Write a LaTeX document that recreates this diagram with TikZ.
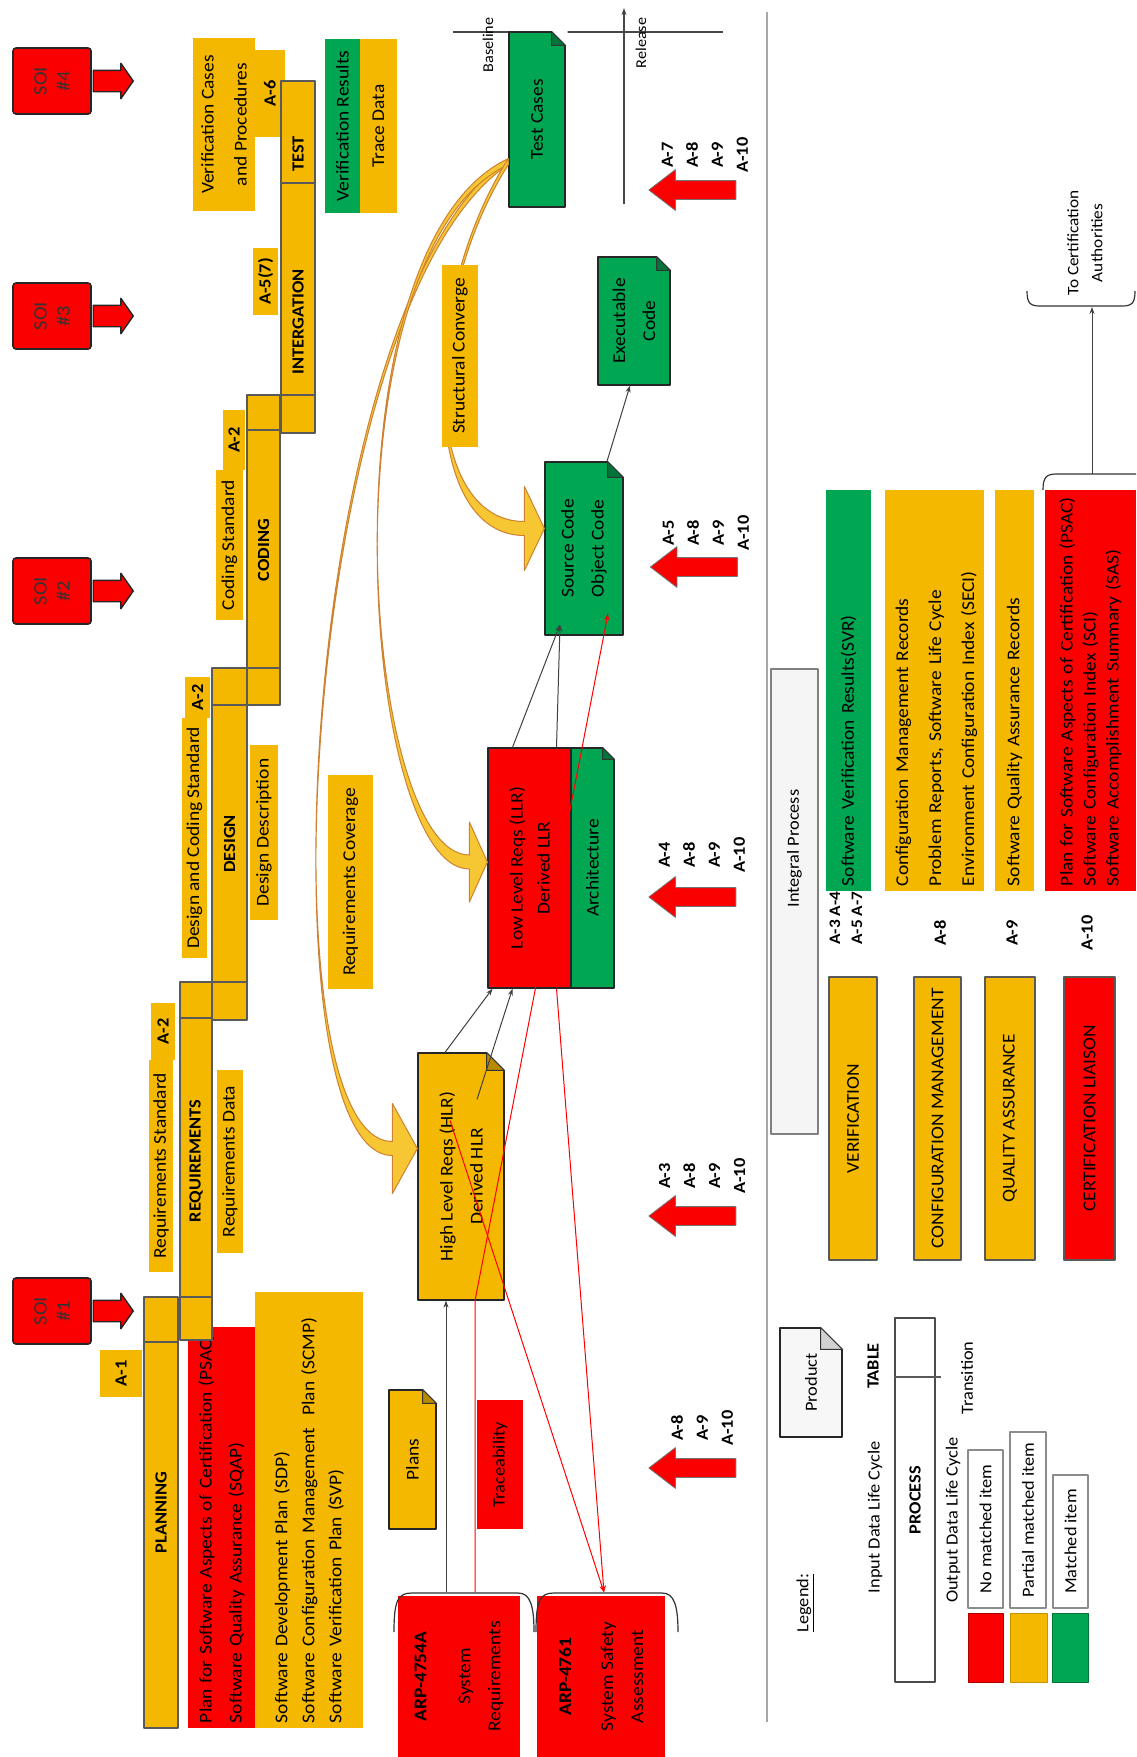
\documentclass[tikz,border=0pt]{standalone}
\usepackage{fontspec}
\setmainfont{Carlito}[FakeStretch=1.08]
\usetikzlibrary{shapes.arrows,arrows.meta,calc}

\definecolor{phasegold}{RGB}{245,184,0}
\definecolor{itemred}{RGB}{250,0,0}
\definecolor{itemgreen}{RGB}{0,166,81}
\definecolor{edgegray}{RGB}{64,64,64}
\definecolor{flowedge}{RGB}{205,130,50}

% folded corner of a document node (node, fold colour, size)
\newcommand\docfold[3]{%
  \fill[white] ($(#1.south east)+(-#3-2,-2)$) -- ($(#1.south east)+(2,-2)$) -- ($(#1.south east)+(2,#3+2)$) -- cycle;
  \filldraw[fill=#2, draw=black!80, line width=1pt]
    ($(#1.south east)+(-#3,0)$) -- ($(#1.south east)+(0,#3)$) -- ($(#1.south east)+(-#3,#3)$) -- cycle;
}

\tikzset{
  rot/.style={rotate=90, inner sep=2pt, align=center},
  plain/.style={rot, font=\fontsize{17}{20}\selectfont},
  phase/.style={rot, draw=black!65, line width=1.2pt, fill=phasegold, font=\fontsize{17}{20}\selectfont\bfseries},
  cellline/.style={draw=black!65, line width=1.2pt},
  tagbox/.style={rot, fill=phasegold, font=\fontsize{18}{22}\selectfont},
  atag/.style={rot, fill=phasegold, font=\fontsize{17}{20}\selectfont\bfseries},
  item/.style={rot, draw=black!85, line width=1.2pt, font=\fontsize{18}{30}\selectfont},
  soibox/.style={rot, draw=black!85, line width=1.6pt, fill=itemred, rounded corners=3pt,
    minimum width=66pt, minimum height=78pt, font=\fontsize{19}{23}\selectfont, text=black!80},
  soiarrow/.style={single arrow, draw=black!85, line width=1.4pt, fill=itemred, inner sep=0pt,
    minimum height=40pt, single arrow head extend=7pt, single arrow tip angle=110},
  aarrow/.style={single arrow, shape border rotate=180, draw=black!55, line width=0.8pt, fill=itemred,
    inner sep=0pt, minimum height=87pt, single arrow head extend=11pt, single arrow tip angle=75},
  alabel/.style={rot, font=\fontsize{17}{25}\selectfont\bfseries},
  conn/.style={draw=edgegray, line width=1pt, -{Stealth[length=7pt,width=5pt]}},
  trace/.style={draw=red, line width=1pt, -{Stealth[length=7pt,width=5pt]}},
  flow/.style={fill=phasegold!80!white, draw=flowedge, line width=1pt},
  milestone/.style={draw=gray!55!black, line width=1.2pt},
  bracket/.style={draw=black!80, line width=1.2pt},
  outbox/.style={rot, inner sep=4pt, align=left, minimum width=401pt, text width=391pt,
    font=\fontsize{18}{22}\selectfont},
  integ/.style={rot, draw=black!65, line width=1.6pt, fill=phasegold, minimum width=283pt,
    font=\fontsize{18}{22}\selectfont},
  legendbox/.style={rot, draw=black!45, line width=1.5pt, fill=white, font=\fontsize{17}{20}\selectfont},
}

\begin{document}
\begin{tikzpicture}[x=1pt, y=-1pt, line join=round]
  \useasboundingbox[fill=white] (0,0) rectangle (1136,1757);

  % separator, baseline and release
  \draw[gray!70, line width=2pt] (767,12) -- (767,1722);
  \coordinate (baseL) at (453,32);
  \coordinate (baseR) at (723,32);
  \draw[milestone] (baseL) -- (baseR);
  \coordinate (relS) at (624,204);
  \coordinate (relE) at (624,8);
  \draw[milestone, -{Stealth[length=7pt,width=5pt]}] (relS) -- (relE);
  \node[plain, font=\fontsize{15}{17}\selectfont] (baselbl) at (488,45) {Baseline};
  \node[plain, font=\fontsize{15}{17}\selectfont] (releaselbl) at (641,43) {Release};

  % life cycle products
  \node[item, fill=itemgreen, minimum width=175pt, minimum height=56pt] (testcases) at (537,119.5) {Test Cases};
  \docfold{testcases}{itemgreen!70!black}{14}
  \node[item, fill=itemgreen, minimum width=128pt, minimum height=72pt] (exec) at (634,321) {Executable\\Code};
  \docfold{exec}{itemgreen!70!black}{14}
  \node[item, fill=itemgreen, minimum width=173pt, minimum height=78pt] (source) at (584,548.5) {Source Code\\Object Code};
  \docfold{source}{itemgreen!70!black}{16}
  \node[item, fill=itemred, minimum width=240pt, minimum height=83pt, font=\fontsize{18}{27}\selectfont] (llr) at (529.5,868) {Low Level Reqs (LLR)\\Derived LLR};
  \node[item, fill=itemgreen, minimum width=240pt, minimum height=43pt] (arch) at (592.5,868) {Architecture};
  \docfold{arch}{itemgreen!70!black}{12}
  \node[item, fill=phasegold, minimum width=247pt, minimum height=86pt] (hlr) at (461,1176.5) {High Level Reqs (HLR)\\Derived HLR};
  \docfold{hlr}{phasegold!75!black}{18}
  \node[item, fill=phasegold, minimum width=139pt, minimum height=47pt] (plans) at (412.5,1459.5) {Plans};
  \docfold{plans}{phasegold!75!black}{14}
  \node[rot, fill=itemred, minimum width=129pt, minimum height=46pt, font=\fontsize{17}{20}\selectfont] (traceab) at (500,1464.5) {Traceability};
  \node[item, draw=none, fill=itemred, minimum width=161pt, minimum height=122pt] (arp1) at (459,1676.5) {\textbf{ARP-4754A}\\[14pt]System\\Requirements};
  \node[item, draw=none, fill=itemred, minimum width=161pt, minimum height=128pt] (arp2) at (601,1676.5) {\textbf{ARP-4761}\\[12pt]System Safety\\Assessment};
  \draw[bracket] (394,1632) .. controls (394,1600) and (398,1593) .. (412,1593) -- (518,1593) .. controls (530,1593) and (534,1605) .. (534,1632);
  \draw[bracket] (536,1632) .. controls (536,1600) and (540,1593) .. (554,1593) -- (662,1593) .. controls (674,1593) and (678,1605) .. (678,1632);

  % coverage arrows out of the test cases
  \coordinate (tcout) at ($(testcases.north)+(0,42)$);
  \coordinate (hlrin) at ($(hlr.north)+(0,-28)$);
  \coordinate (llrin) at ($(llr.north)+(0,-6)$);
  \coordinate (srcin) at ($(source.north)+(0,-20)$);
  \filldraw[flow] ($(tcout)+(0,-3)$) .. controls (300,297) and (260,1141.5) .. ($(hlrin)+(-25,-7)$)
    -- ($(hlrin)+(-25,-45)$) -- (hlrin) -- ($(hlrin)+(-25,45)$) -- ($(hlrin)+(-25,7)$)
    .. controls (260,1155.5) and (300,303) .. ($(tcout)+(0,3)$) -- cycle;
  \filldraw[flow] ($(tcout)+(0,-3)$) .. controls (320,247) and (360,855) .. ($(llrin)+(-18,-7)$)
    -- ($(llrin)+(-18,-40)$) -- (llrin) -- ($(llrin)+(-18,40)$) -- ($(llrin)+(-18,7)$)
    .. controls (360,869) and (320,253) .. ($(tcout)+(0,3)$) -- cycle;
  \filldraw[flow] ($(tcout)+(0,-3)$) .. controls (420,297) and (420,521.5) .. ($(srcin)+(-20,-7)$)
    -- ($(srcin)+(-20,-42)$) -- (srcin) -- ($(srcin)+(-20,42)$) -- ($(srcin)+(-20,7)$)
    .. controls (420,535.5) and (420,303) .. ($(tcout)+(0,3)$) -- cycle;

  % development links
  \draw[conn] ($(hlr.east)+(-16,0)$) -- ($(llr.west)+(-37,0)$);
  \draw[conn] ($(hlr.east)+(16,47)$) -- ($(llr.west)+(-17,0)$);
  \draw[conn] ($(llr.east)+(-17,0)$) -- ($(source.west)+(-24,-11)$);
  \draw[conn] ($(llr.east)+(27,0)$) -- ($(source.west)+(-24,-11)$);
  \draw[conn] ($(source.east)+(23,0)$) -- ($(exec.west)+(-4,0)$);
  \draw[conn] ($(arp1.east)+(-13,-3)$) -- ($(hlr.west)+(-15,0)$);

  % traceability links
  \draw[trace] ($(arp1.east)+(16,-3)$) -- ($(hlr.west)+(14,0)$) -- ($(source.west)+(24,-22)$);
  \draw[trace] ($(llr.west)+(27,0)$) -- ($(arp2.east)+(3,-3)$);
  \draw[trace] ($(hlr.center)+(-11,-56)$) -- ($(arp2.east)+(3,-3)$);

  % data items of the phases
  \node[atag, minimum width=47pt, minimum height=42pt] (a1) at (121,1373.5) {A-1};
  \node[tagbox, minimum width=212pt, minimum height=24pt] (reqstd) at (161,1166) {Requirements Standard};
  \node[atag, minimum width=57pt, minimum height=24pt] (a2req) at (163,1031.5) {A-2};
  \node[tagbox, minimum width=240pt, minimum height=25pt] (dcstd) at (194.5,838) {Design and Coding Standard};
  \node[atag, minimum width=41pt, minimum height=25pt] (a2des) at (197.5,697.5) {A-2};
  \node[tagbox, minimum width=150pt, minimum height=27pt] (codstd) at (229.5,545) {Coding Standard};
  \node[atag, minimum width=60pt, minimum height=22pt] (a2cod) at (234,440) {A-2};
  \node[tagbox, minimum width=183pt, minimum height=26pt] (reqdata) at (230,1161.5) {Requirements Data};
  \node[tagbox, minimum width=175pt, minimum height=28pt] (desdesc) at (264,832.5) {Design Description};
  \node[atag, minimum width=67pt, minimum height=25pt] (a5) at (265.5,281.5) {A-5(7)};
  \node[atag, minimum width=87pt, minimum height=30pt] (a6) at (270,93.5) {A-6};
  \node[tagbox, minimum width=173pt, minimum height=62pt, font=\fontsize{18}{33}\selectfont] (vercases) at (224,124.5) {Verification Cases\\and Procedures};
  \node[tagbox, fill=itemgreen, minimum width=174pt, minimum height=35pt] (verres) at (342.5,126) {Verification Results};
  \node[tagbox, minimum width=174pt, minimum height=37pt] (tracedata) at (378.5,126) {Trace Data};
  \node[tagbox, minimum width=214pt, minimum height=45pt] (reqcov) at (350.5,882) {Requirements Coverage};
  \node[tagbox, minimum width=182pt, minimum height=36pt] (structcov) at (460,356) {Structural Converge};
  \node[rot, fill=itemred, minimum width=401pt, minimum height=67pt, text width=391pt, align=left,
    font=\fontsize{18}{30}\selectfont] (psacplan) at (221.5,1527.5)
    {Plan for Software Aspects of Certification (PSAC)\\Software Quality Assurance (SQAP)};
  \node[rot, fill=phasegold, minimum width=436pt, minimum height=108pt, text width=426pt, align=left,
    font=\fontsize{18}{27}\selectfont] (sdp) at (309,1510)
    {Software Development Plan (SDP)\\Software Configuration Management\ \ Plan (SCMP)\\Software Verification Plan (SVP)};

  % process phases
  \node[phase, minimum width=431pt, minimum height=34pt] (planning) at (161,1512.5) {PLANNING};
  \node[phase, minimum width=358pt, minimum height=32pt] (requirements) at (196,1161) {REQUIREMENTS};
  \node[phase, minimum width=352pt, minimum height=35pt] (design) at (229.5,844) {DESIGN};
  \node[phase, minimum width=310pt, minimum height=33pt] (coding) at (263.5,550) {CODING};
  \node[phase, minimum width=250pt, minimum height=34pt] (integration) at (298,308) {INTERGATION\hspace*{28pt}};
  \node[phase, minimum width=102pt, minimum height=34pt] (test) at (298,132) {TEST\hspace*{44pt}};
  \draw[cellline] (planning.north |- 0,1342) -- (planning.south |- 0,1342);
  \draw[cellline] (requirements.north |- 0,1297) -- (requirements.south |- 0,1297);
  \draw[cellline] (requirements.north |- 0,1018) -- (requirements.south |- 0,1018);
  \draw[cellline] (design.north |- 0,982) -- (design.south |- 0,982);
  \draw[cellline] (design.north |- 0,705) -- (design.south |- 0,705);
  \draw[cellline] (coding.north |- 0,668) -- (coding.south |- 0,668);
  \draw[cellline] (coding.north |- 0,430) -- (coding.south |- 0,430);
  \draw[cellline] (integration.north |- 0,395) -- (integration.south |- 0,395);

  % stages of involvement
  \node[soiarrow] (soi4a) at (109.5,81) {\rule{0pt}{20pt}};
  \node[soibox] (soi4) at (52,81) {SOI\\\#4};
  \node[soiarrow] (soi3a) at (109.5,316) {\rule{0pt}{20pt}};
  \node[soibox] (soi3) at (52,316) {SOI\\\#3};
  \node[soiarrow] (soi2a) at (109.5,591) {\rule{0pt}{20pt}};
  \node[soibox] (soi2) at (52,591) {SOI\\\#2};
  \node[soiarrow] (soi1a) at (109.5,1311) {\rule{0pt}{20pt}};
  \node[soibox] (soi1) at (52,1311) {SOI\\\#1};

  % objective tables
  \node[aarrow] (arrplan) at (698.5,1468) {\rule{0pt}{18pt}};
  \node[alabel] (lblplan) at (702,1428) {A-8\\A-9\\A-10};
  \node[aarrow] (arrhlr) at (698.5,1216) {\rule{0pt}{18pt}};
  \node[alabel] (lblhlr) at (702,1176) {A-3\\A-8\\A-9\\A-10};
  \node[aarrow] (arrllr) at (698.5,897) {\rule{0pt}{18pt}};
  \node[alabel] (lblllr) at (702,855) {A-4\\A-8\\A-9\\A-10};
  \node[aarrow] (arrsrc) at (700,567) {\rule{0pt}{18pt}};
  \node[alabel] (lblsrc) at (706,533) {A-5\\A-8\\A-9\\A-10};
  \node[aarrow] (arrtest) at (698.5,190) {\rule{0pt}{18pt}};
  \node[alabel] (lbltest) at (705,155) {A-7\\A-8\\A-9\\A-10};

  % integral process
  \node[rot, draw=black!50, line width=1.5pt, fill=gray!8, minimum width=465pt, minimum height=47pt,
    font=\fontsize{17}{20}\selectfont] (integral) at (794.5,901.5) {\hspace*{106pt}Integral Process};
  \node[integ, minimum height=48pt] (verif) at (853,1118.5) {VERIFICATION};
  \node[integ, minimum height=47pt] (confman) at (937.5,1118.5) {CONFIGURATION MANAGEMENT};
  \node[integ, minimum height=50pt] (qualass) at (1010,1118.5) {QUALITY ASSURANCE};
  \node[integ, minimum height=51pt, fill=itemred] (certlia) at (1089.5,1118.5) {CERTIFICATION LIAISON};
  \node[alabel, font=\fontsize{16}{22}\selectfont\bfseries] (lblver) at (846,918) {A-3 A-4\\A-5 A-7};
  \node[alabel] (lblcm) at (940,933) {A-8};
  \node[alabel] (lblqa) at (1012,933) {A-9};
  \node[alabel] (lblcl) at (1087,933) {A-10};
  \node[outbox, fill=itemgreen, minimum height=45pt] (svr) at (848.5,690.5) {Software Verification Results(SVR)};
  \node[outbox, fill=phasegold, minimum height=37pt] (cmrec) at (903.5,690.5) {Configuration Management Records};
  \node[outbox, fill=phasegold, minimum height=62pt, font=\fontsize{18}{33}\selectfont] (prrep) at (953,690.5)
    {Problem Reports, Software Life Cycle\\Environment Configuration Index (SECI)};
  \node[outbox, fill=phasegold, minimum height=39pt] (sqarec) at (1014.5,690.5) {Software Quality Assurance Records};
  \node[outbox, fill=itemred, minimum height=91pt, font=\fontsize{18}{23}\selectfont] (psacout) at (1090.5,690.5)
    {Plan for Software Aspects of Certification (PSAC)\\Software Configuration Index (SCI)\\Software Accomplishment Summary (SAS)};

  % certification authorities
  \node[plain, font=\fontsize{16}{24}\selectfont] (certauth) at (1085,243) {To Certification\\Authorities};
  \draw[bracket] (1027,291) .. controls (1027,303) and (1030,306) .. (1040,306) -- (1122,306) .. controls (1132,306) and (1135,303) .. (1135,291);
  \draw[bracket] (1043,490) .. controls (1043,478) and (1046,474) .. (1056,474) -- (1136,474);
  \coordinate (psacup) at (1092,474);
  \coordinate (certdown) at (1092,307);
  \draw[conn] (psacup) -- (certdown);

  % legend
  \node[plain] (legendttl) at (805,1603) {\underline{Legend:}};
  \node[item, fill=gray!6, minimum width=109pt, minimum height=62pt, font=\fontsize{17}{20}\selectfont] (product) at (811,1382.5) {Product};
  \docfold{product}{gray!35}{22}
  \node[plain, font=\fontsize{17}{20}\selectfont\bfseries] (tablelbl) at (873,1366) {TABLE};
  \node[plain] (inputlbl) at (875,1517) {Input Data Life Cycle};
  \node[rot, draw=black!70, line width=1.2pt, fill=white, minimum width=364pt, minimum height=40pt,
    font=\fontsize{17}{20}\selectfont\bfseries] (process) at (915,1500) {PROCESS};
  \draw[cellline] (process.north |- 0,1377) -- ($(process.south |- 0,1377)+(5,0)$);
  \node[plain] (outputlbl) at (953,1520) {Output Data Life Cycle};
  \node[plain] (translbl) at (967,1378) {Transition};
  \node[rot, fill=itemred, draw=itemred!70!black, minimum width=69pt, minimum height=35pt] (swred) at (985.5,1647.5) {};
  \node[rot, fill=phasegold, draw=phasegold!80!black, minimum width=69pt, minimum height=37pt] (swgold) at (1028.5,1647.5) {};
  \node[rot, fill=itemgreen, draw=itemgreen!70!black, minimum width=69pt, minimum height=36pt] (swgreen) at (1070,1647.5) {};
  \node[legendbox, minimum width=158pt, minimum height=35pt] (nomatch) at (985.5,1529) {No matched item};
  \node[legendbox, minimum width=176pt, minimum height=36pt] (partmatch) at (1028,1520) {Partial matched item};
  \node[legendbox, minimum width=133pt, minimum height=35pt] (fullmatch) at (1070.5,1541.5) {Matched item};
\end{tikzpicture}
\end{document}
